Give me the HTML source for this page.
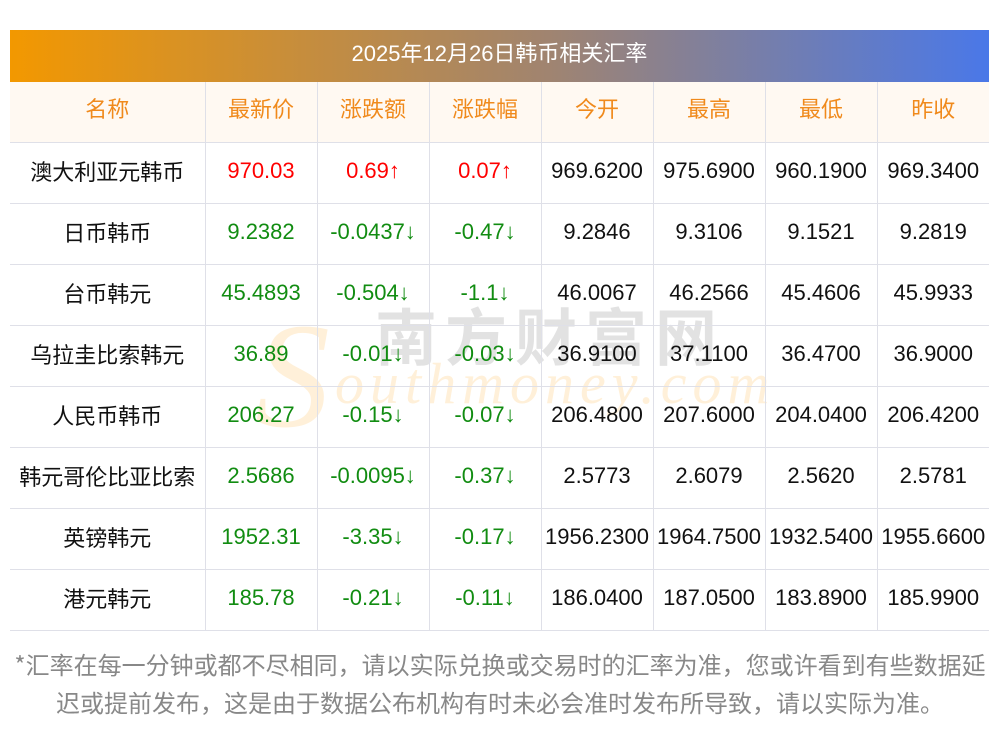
<!DOCTYPE html>
<html><head><meta charset="utf-8"><style>
body{margin:0;width:1000px;height:733px;background:#fff;position:relative;overflow:hidden;font-family:"Liberation Sans","Noto Sans CJK SC",sans-serif}
.bar{position:absolute;left:10px;top:30px;width:979px;height:52px;background:linear-gradient(90deg,#f39800,#a08470 55%,#4a78e8);color:#fff;font-size:22px;text-align:center;line-height:48px}
table{position:absolute;left:10px;top:82px;border-collapse:collapse;width:979px;table-layout:fixed}
td{border:1px solid #dfe0e8;text-align:center;font-size:22px;height:61px;padding:0 0 4px;color:#111;line-height:22px;box-sizing:border-box}
.cj{font-family:"Noto Sans CJK SC",sans-serif;font-size:22px}
tr:first-child td{background:#fff9f2;color:#f08a1c;border-top:none;padding-bottom:8px;height:60px}
td:first-child{border-left:none}td:last-child{border-right:none}
.r{color:#f00}.g{color:#118c11}
.wm1{position:absolute;left:375px;top:288px;font-size:62px;color:rgba(150,150,150,.28);letter-spacing:8px;font-weight:bold;font-family:"Noto Sans CJK SC",sans-serif}
.wm2{position:absolute;left:335px;top:350px;font-size:58px;font-family:"Liberation Serif",serif;font-style:italic;color:rgba(255,200,120,.28);letter-spacing:6px}
.wm3{position:absolute;left:255px;top:290px;font-size:150px;font-family:"Liberation Serif",serif;font-style:italic;color:rgba(255,200,120,.28)}
.foot{position:absolute;left:4px;top:645px;width:992px;font-size:24px;color:#888;line-height:38px;text-align:center;font-family:"Noto Sans CJK SC",sans-serif;white-space:nowrap}
</style></head><body>
<div class="bar">2025年12月26日韩币相关汇率</div>
<div class="wm3">S</div><div class="wm1">南方财富网</div><div class="wm2">outhmoney.com</div>
<table>
<colgroup><col style="width:195px"><col style="width:112px"><col style="width:112px"><col style="width:112px"><col style="width:112px"><col style="width:112px"><col style="width:112px"><col style="width:112px"></colgroup>
<tr><td class="cj">名称</td><td class="cj">最新价</td><td class="cj">涨跌额</td><td class="cj">涨跌幅</td><td class="cj">今开</td><td class="cj">最高</td><td class="cj">最低</td><td class="cj">昨收</td></tr>
<tr><td class="cj">澳大利亚元韩币</td><td class="r">970.03</td><td class="r">0.69↑</td><td class="r">0.07↑</td><td>969.6200</td><td>975.6900</td><td>960.1900</td><td>969.3400</td></tr>
<tr><td class="cj">日币韩币</td><td class="g">9.2382</td><td class="g">-0.0437↓</td><td class="g">-0.47↓</td><td>9.2846</td><td>9.3106</td><td>9.1521</td><td>9.2819</td></tr>
<tr><td class="cj">台币韩元</td><td class="g">45.4893</td><td class="g">-0.504↓</td><td class="g">-1.1↓</td><td>46.0067</td><td>46.2566</td><td>45.4606</td><td>45.9933</td></tr>
<tr><td class="cj">乌拉圭比索韩元</td><td class="g">36.89</td><td class="g">-0.01↓</td><td class="g">-0.03↓</td><td>36.9100</td><td>37.1100</td><td>36.4700</td><td>36.9000</td></tr>
<tr><td class="cj">人民币韩币</td><td class="g">206.27</td><td class="g">-0.15↓</td><td class="g">-0.07↓</td><td>206.4800</td><td>207.6000</td><td>204.0400</td><td>206.4200</td></tr>
<tr><td class="cj">韩元哥伦比亚比索</td><td class="g">2.5686</td><td class="g">-0.0095↓</td><td class="g">-0.37↓</td><td>2.5773</td><td>2.6079</td><td>2.5620</td><td>2.5781</td></tr>
<tr><td class="cj">英镑韩元</td><td class="g">1952.31</td><td class="g">-3.35↓</td><td class="g">-0.17↓</td><td>1956.2300</td><td>1964.7500</td><td>1932.5400</td><td>1955.6600</td></tr>
<tr><td class="cj">港元韩元</td><td class="g">185.78</td><td class="g">-0.21↓</td><td class="g">-0.11↓</td><td>186.0400</td><td>187.0500</td><td>183.8900</td><td>185.9900</td></tr>
</table>
<div class="foot">*汇率在每一分钟或都不尽相同，请以实际兑换或交易时的汇率为准，您或许看到有些数据延<br>迟或提前发布，这是由于数据公布机构有时未必会准时发布所导致，请以实际为准。</div>
</body></html>
